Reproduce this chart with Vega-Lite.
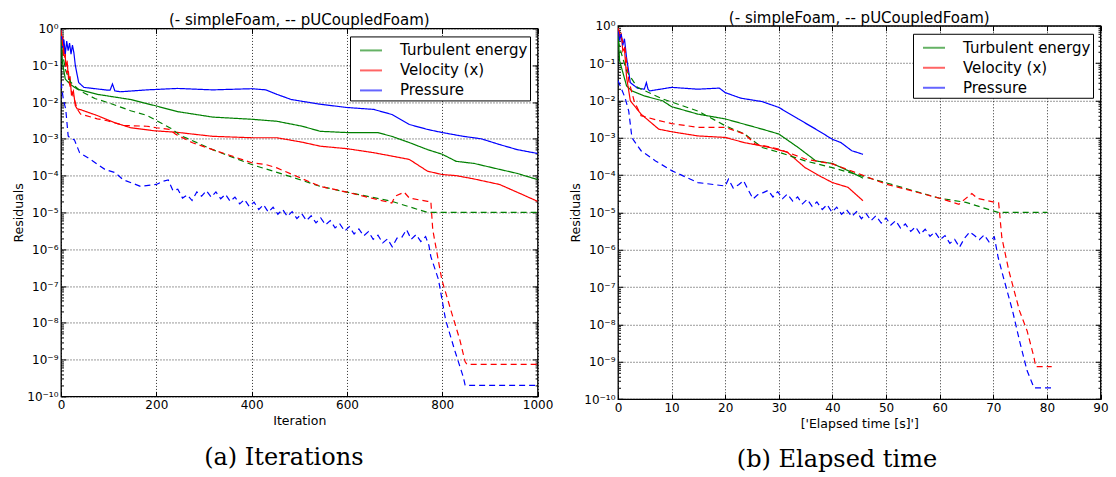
{
  "$schema": "https://vega.github.io/schema/vega-lite/v6.json",
  "padding": {"left": 12, "top": 9.5, "right": 0, "bottom": 0},
  "background": "white",
  "config": {
    "font": "DejaVu Sans",
    "view": {"stroke": "black", "strokeWidth": 1.3},
    "axis": {
      "domain": false, "grid": true, "gridColor": "black", "gridDash": [1, 2], "gridWidth": 0.8, "gridOpacity": 1,
      "tickColor": "black", "tickSize": -5, "tickWidth": 1, "labelFlush": false,
      "labelFont": "DejaVu Sans", "labelFontSize": 12, "labelColor": "black", "labelPadding": 8,
      "titleFont": "DejaVu Sans", "titleFontSize": 12.5, "titleFontWeight": "normal", "titleColor": "black", "titlePadding": 1
    },
    "axisX": {"titlePadding": 4},
    "legend": {
      "orient": "top-right", "offset": 8, "title": null, "strokeColor": "black", "fillColor": "white",
      "padding": 2, "cornerRadius": 0, "labelFont": "DejaVu Sans", "labelFontSize": 15, "labelColor": "black",
      "symbolType": "stroke", "symbolSize": 484, "symbolStrokeWidth": 2, "symbolOpacity": 0.6,
      "symbolOffset": 7, "labelOffset": 17, "rowPadding": 0
    },
    "title": {"font": "DejaVu Sans", "fontSize": 15, "fontWeight": "normal", "color": "black"}
  },
  "datasets": {
    "iter": [
      {"s":"simpleFoam","v":"Turbulent energy","x":0,"r":0.9},{"s":"simpleFoam","v":"Turbulent energy","x":3,"r":0.12},{"s":"simpleFoam","v":"Turbulent energy","x":9,"r":0.042},{"s":"simpleFoam","v":"Turbulent energy","x":20,"r":0.03},{"s":"simpleFoam","v":"Turbulent energy","x":34,"r":0.0224},{"s":"simpleFoam","v":"Turbulent energy","x":76,"r":0.0162},{"s":"simpleFoam","v":"Turbulent energy","x":146,"r":0.0117},{"s":"simpleFoam","v":"Turbulent energy","x":200,"r":0.0078},{"s":"simpleFoam","v":"Turbulent energy","x":244,"r":0.0055},{"s":"simpleFoam","v":"Turbulent energy","x":318,"r":0.0039},{"s":"simpleFoam","v":"Turbulent energy","x":400,"r":0.0034},{"s":"simpleFoam","v":"Turbulent energy","x":453,"r":0.003},{"s":"simpleFoam","v":"Turbulent energy","x":506,"r":0.0022},{"s":"simpleFoam","v":"Turbulent energy","x":544,"r":0.0016},{"s":"simpleFoam","v":"Turbulent energy","x":600,"r":0.00148},{"s":"simpleFoam","v":"Turbulent energy","x":664,"r":0.00148},{"s":"simpleFoam","v":"Turbulent energy","x":694,"r":0.00117},{"s":"simpleFoam","v":"Turbulent energy","x":732,"r":0.00078},{"s":"simpleFoam","v":"Turbulent energy","x":769,"r":0.00051},{"s":"simpleFoam","v":"Turbulent energy","x":800,"r":0.00038},{"s":"simpleFoam","v":"Turbulent energy","x":829,"r":0.000245},{"s":"simpleFoam","v":"Turbulent energy","x":867,"r":0.000214},{"s":"simpleFoam","v":"Turbulent energy","x":920,"r":0.000148},{"s":"simpleFoam","v":"Turbulent energy","x":957,"r":0.000115},{"s":"simpleFoam","v":"Turbulent energy","x":1000,"r":0.000078},
      {"s":"simpleFoam","v":"Velocity (x)","x":0,"r":0.9},{"s":"simpleFoam","v":"Velocity (x)","x":2,"r":0.5},{"s":"simpleFoam","v":"Velocity (x)","x":4,"r":0.6},{"s":"simpleFoam","v":"Velocity (x)","x":6,"r":0.2},{"s":"simpleFoam","v":"Velocity (x)","x":8,"r":0.3},{"s":"simpleFoam","v":"Velocity (x)","x":10,"r":0.1},{"s":"simpleFoam","v":"Velocity (x)","x":13,"r":0.12},{"s":"simpleFoam","v":"Velocity (x)","x":16,"r":0.04},{"s":"simpleFoam","v":"Velocity (x)","x":19,"r":0.05},{"s":"simpleFoam","v":"Velocity (x)","x":22,"r":0.015},{"s":"simpleFoam","v":"Velocity (x)","x":26,"r":0.02},{"s":"simpleFoam","v":"Velocity (x)","x":30,"r":0.008},{"s":"simpleFoam","v":"Velocity (x)","x":34,"r":0.0065},{"s":"simpleFoam","v":"Velocity (x)","x":41,"r":0.0062},{"s":"simpleFoam","v":"Velocity (x)","x":76,"r":0.0043},{"s":"simpleFoam","v":"Velocity (x)","x":111,"r":0.0028},{"s":"simpleFoam","v":"Velocity (x)","x":146,"r":0.002},{"s":"simpleFoam","v":"Velocity (x)","x":195,"r":0.00166},{"s":"simpleFoam","v":"Velocity (x)","x":244,"r":0.0015},{"s":"simpleFoam","v":"Velocity (x)","x":318,"r":0.00117},{"s":"simpleFoam","v":"Velocity (x)","x":400,"r":0.00107},{"s":"simpleFoam","v":"Velocity (x)","x":453,"r":0.00107},{"s":"simpleFoam","v":"Velocity (x)","x":506,"r":0.00081},{"s":"simpleFoam","v":"Velocity (x)","x":544,"r":0.00063},{"s":"simpleFoam","v":"Velocity (x)","x":600,"r":0.00054},{"s":"simpleFoam","v":"Velocity (x)","x":656,"r":0.00042},{"s":"simpleFoam","v":"Velocity (x)","x":694,"r":0.00034},{"s":"simpleFoam","v":"Velocity (x)","x":731,"r":0.000275},{"s":"simpleFoam","v":"Velocity (x)","x":769,"r":0.000132},{"s":"simpleFoam","v":"Velocity (x)","x":800,"r":0.000107},{"s":"simpleFoam","v":"Velocity (x)","x":829,"r":0.0001},{"s":"simpleFoam","v":"Velocity (x)","x":867,"r":0.000081},{"s":"simpleFoam","v":"Velocity (x)","x":920,"r":0.0000575},{"s":"simpleFoam","v":"Velocity (x)","x":957,"r":0.0000355},{"s":"simpleFoam","v":"Velocity (x)","x":1000,"r":0.00002},
      {"s":"simpleFoam","v":"Pressure","x":0,"r":0.9},{"s":"simpleFoam","v":"Pressure","x":3,"r":0.3},{"s":"simpleFoam","v":"Pressure","x":6,"r":0.5},{"s":"simpleFoam","v":"Pressure","x":9,"r":0.2},{"s":"simpleFoam","v":"Pressure","x":12,"r":0.45},{"s":"simpleFoam","v":"Pressure","x":15,"r":0.25},{"s":"simpleFoam","v":"Pressure","x":18,"r":0.4},{"s":"simpleFoam","v":"Pressure","x":21,"r":0.2},{"s":"simpleFoam","v":"Pressure","x":24,"r":0.35},{"s":"simpleFoam","v":"Pressure","x":27,"r":0.22},{"s":"simpleFoam","v":"Pressure","x":30,"r":0.1},{"s":"simpleFoam","v":"Pressure","x":37,"r":0.034},{"s":"simpleFoam","v":"Pressure","x":48,"r":0.025},{"s":"simpleFoam","v":"Pressure","x":98,"r":0.021},{"s":"simpleFoam","v":"Pressure","x":103,"r":0.021},{"s":"simpleFoam","v":"Pressure","x":108,"r":0.031},{"s":"simpleFoam","v":"Pressure","x":113,"r":0.02},{"s":"simpleFoam","v":"Pressure","x":125,"r":0.019},{"s":"simpleFoam","v":"Pressure","x":181,"r":0.0214},{"s":"simpleFoam","v":"Pressure","x":244,"r":0.0234},{"s":"simpleFoam","v":"Pressure","x":318,"r":0.0214},{"s":"simpleFoam","v":"Pressure","x":400,"r":0.023},{"s":"simpleFoam","v":"Pressure","x":430,"r":0.0214},{"s":"simpleFoam","v":"Pressure","x":453,"r":0.0162},{"s":"simpleFoam","v":"Pressure","x":483,"r":0.0117},{"s":"simpleFoam","v":"Pressure","x":544,"r":0.0087},{"s":"simpleFoam","v":"Pressure","x":600,"r":0.0071},{"s":"simpleFoam","v":"Pressure","x":656,"r":0.0063},{"s":"simpleFoam","v":"Pressure","x":694,"r":0.0046},{"s":"simpleFoam","v":"Pressure","x":731,"r":0.00245},{"s":"simpleFoam","v":"Pressure","x":769,"r":0.0018},{"s":"simpleFoam","v":"Pressure","x":800,"r":0.00148},{"s":"simpleFoam","v":"Pressure","x":844,"r":0.00117},{"s":"simpleFoam","v":"Pressure","x":882,"r":0.001},{"s":"simpleFoam","v":"Pressure","x":920,"r":0.0007},{"s":"simpleFoam","v":"Pressure","x":957,"r":0.00051},{"s":"simpleFoam","v":"Pressure","x":1000,"r":0.0004},
      {"s":"pUCoupledFoam","v":"Turbulent energy","x":0,"r":0.5},{"s":"pUCoupledFoam","v":"Turbulent energy","x":5,"r":0.15},{"s":"pUCoupledFoam","v":"Turbulent energy","x":10,"r":0.07},{"s":"pUCoupledFoam","v":"Turbulent energy","x":20,"r":0.035},{"s":"pUCoupledFoam","v":"Turbulent energy","x":40,"r":0.02},{"s":"pUCoupledFoam","v":"Turbulent energy","x":71,"r":0.0125},{"s":"pUCoupledFoam","v":"Turbulent energy","x":97,"r":0.0098},{"s":"pUCoupledFoam","v":"Turbulent energy","x":146,"r":0.0058},{"s":"pUCoupledFoam","v":"Turbulent energy","x":181,"r":0.0043},{"s":"pUCoupledFoam","v":"Turbulent energy","x":231,"r":0.0019},{"s":"pUCoupledFoam","v":"Turbulent energy","x":250,"r":0.00125},{"s":"pUCoupledFoam","v":"Turbulent energy","x":318,"r":0.00051},{"s":"pUCoupledFoam","v":"Turbulent energy","x":400,"r":0.0002},{"s":"pUCoupledFoam","v":"Turbulent energy","x":468,"r":0.000107},{"s":"pUCoupledFoam","v":"Turbulent energy","x":544,"r":0.000051},{"s":"pUCoupledFoam","v":"Turbulent energy","x":600,"r":0.0000355},{"s":"pUCoupledFoam","v":"Turbulent energy","x":694,"r":0.00002},{"s":"pUCoupledFoam","v":"Turbulent energy","x":769,"r":0.00001},{"s":"pUCoupledFoam","v":"Turbulent energy","x":1000,"r":0.00001},
      {"s":"pUCoupledFoam","v":"Velocity (x)","x":0,"r":0.9},{"s":"pUCoupledFoam","v":"Velocity (x)","x":3,"r":0.4},{"s":"pUCoupledFoam","v":"Velocity (x)","x":6,"r":0.15},{"s":"pUCoupledFoam","v":"Velocity (x)","x":9,"r":0.2},{"s":"pUCoupledFoam","v":"Velocity (x)","x":12,"r":0.06},{"s":"pUCoupledFoam","v":"Velocity (x)","x":15,"r":0.08},{"s":"pUCoupledFoam","v":"Velocity (x)","x":18,"r":0.03},{"s":"pUCoupledFoam","v":"Velocity (x)","x":22,"r":0.02},{"s":"pUCoupledFoam","v":"Velocity (x)","x":28,"r":0.0117},{"s":"pUCoupledFoam","v":"Velocity (x)","x":34,"r":0.0065},{"s":"pUCoupledFoam","v":"Velocity (x)","x":41,"r":0.0047},{"s":"pUCoupledFoam","v":"Velocity (x)","x":76,"r":0.0035},{"s":"pUCoupledFoam","v":"Velocity (x)","x":97,"r":0.0031},{"s":"pUCoupledFoam","v":"Velocity (x)","x":132,"r":0.0023},{"s":"pUCoupledFoam","v":"Velocity (x)","x":180,"r":0.0022},{"s":"pUCoupledFoam","v":"Velocity (x)","x":200,"r":0.002},{"s":"pUCoupledFoam","v":"Velocity (x)","x":227,"r":0.0018},{"s":"pUCoupledFoam","v":"Velocity (x)","x":242,"r":0.0013},{"s":"pUCoupledFoam","v":"Velocity (x)","x":276,"r":0.00078},{"s":"pUCoupledFoam","v":"Velocity (x)","x":318,"r":0.00051},{"s":"pUCoupledFoam","v":"Velocity (x)","x":400,"r":0.000224},{"s":"pUCoupledFoam","v":"Velocity (x)","x":430,"r":0.0002},{"s":"pUCoupledFoam","v":"Velocity (x)","x":453,"r":0.000162},{"s":"pUCoupledFoam","v":"Velocity (x)","x":544,"r":0.000051},{"s":"pUCoupledFoam","v":"Velocity (x)","x":600,"r":0.0000355},{"s":"pUCoupledFoam","v":"Velocity (x)","x":694,"r":0.000018},{"s":"pUCoupledFoam","v":"Velocity (x)","x":701,"r":0.0000275},{"s":"pUCoupledFoam","v":"Velocity (x)","x":720,"r":0.0000355},{"s":"pUCoupledFoam","v":"Velocity (x)","x":731,"r":0.0000245},{"s":"pUCoupledFoam","v":"Velocity (x)","x":769,"r":0.00002},{"s":"pUCoupledFoam","v":"Velocity (x)","x":776,"r":0.00002},{"s":"pUCoupledFoam","v":"Velocity (x)","x":780,"r":0.0000034},{"s":"pUCoupledFoam","v":"Velocity (x)","x":799,"r":1.5e-7},{"s":"pUCoupledFoam","v":"Velocity (x)","x":818,"r":2.2e-8},{"s":"pUCoupledFoam","v":"Velocity (x)","x":837,"r":3.4e-9},{"s":"pUCoupledFoam","v":"Velocity (x)","x":848,"r":8.7e-10},{"s":"pUCoupledFoam","v":"Velocity (x)","x":852,"r":7.4e-10},{"s":"pUCoupledFoam","v":"Velocity (x)","x":1000,"r":7.4e-10},
      {"s":"pUCoupledFoam","v":"Pressure","x":0,"r":0.034},{"s":"pUCoupledFoam","v":"Pressure","x":5,"r":0.0117},{"s":"pUCoupledFoam","v":"Pressure","x":10,"r":0.0063},{"s":"pUCoupledFoam","v":"Pressure","x":15,"r":0.0012},{"s":"pUCoupledFoam","v":"Pressure","x":20,"r":0.001},{"s":"pUCoupledFoam","v":"Pressure","x":28,"r":0.00095},{"s":"pUCoupledFoam","v":"Pressure","x":39,"r":0.00042},{"s":"pUCoupledFoam","v":"Pressure","x":62,"r":0.000275},{"s":"pUCoupledFoam","v":"Pressure","x":92,"r":0.000148},{"s":"pUCoupledFoam","v":"Pressure","x":114,"r":0.00012},{"s":"pUCoupledFoam","v":"Pressure","x":130,"r":0.000078},{"s":"pUCoupledFoam","v":"Pressure","x":167,"r":0.000051},{"s":"pUCoupledFoam","v":"Pressure","x":200,"r":0.0000575},{"s":"pUCoupledFoam","v":"Pressure","x":215,"r":0.000071},
      {"s":"pUCoupledFoam","v":"Pressure","x":225,"r":7.6e-5},{"s":"pUCoupledFoam","v":"Pressure","x":235,"r":3.9e-5},{"s":"pUCoupledFoam","v":"Pressure","x":245,"r":4.3e-5},{"s":"pUCoupledFoam","v":"Pressure","x":255,"r":2.45e-5},{"s":"pUCoupledFoam","v":"Pressure","x":265,"r":3.0e-5},{"s":"pUCoupledFoam","v":"Pressure","x":275,"r":2.1e-5},{"s":"pUCoupledFoam","v":"Pressure","x":285,"r":3.6e-5},{"s":"pUCoupledFoam","v":"Pressure","x":295,"r":2.75e-5},{"s":"pUCoupledFoam","v":"Pressure","x":305,"r":3.9e-5},{"s":"pUCoupledFoam","v":"Pressure","x":315,"r":2.6e-5},{"s":"pUCoupledFoam","v":"Pressure","x":325,"r":3.6e-5},{"s":"pUCoupledFoam","v":"Pressure","x":335,"r":2.35e-5},{"s":"pUCoupledFoam","v":"Pressure","x":345,"r":3.1e-5},{"s":"pUCoupledFoam","v":"Pressure","x":355,"r":2.0e-5},{"s":"pUCoupledFoam","v":"Pressure","x":365,"r":2.6e-5},{"s":"pUCoupledFoam","v":"Pressure","x":375,"r":1.7e-5},{"s":"pUCoupledFoam","v":"Pressure","x":385,"r":2.24e-5},{"s":"pUCoupledFoam","v":"Pressure","x":395,"r":1.45e-5},{"s":"pUCoupledFoam","v":"Pressure","x":405,"r":1.9e-5},{"s":"pUCoupledFoam","v":"Pressure","x":415,"r":1.2e-5},{"s":"pUCoupledFoam","v":"Pressure","x":425,"r":1.62e-5},{"s":"pUCoupledFoam","v":"Pressure","x":435,"r":1.02e-5},{"s":"pUCoupledFoam","v":"Pressure","x":445,"r":1.38e-5},{"s":"pUCoupledFoam","v":"Pressure","x":455,"r":8.9e-6},{"s":"pUCoupledFoam","v":"Pressure","x":465,"r":1.2e-5},{"s":"pUCoupledFoam","v":"Pressure","x":475,"r":7.8e-6},{"s":"pUCoupledFoam","v":"Pressure","x":485,"r":1.05e-5},{"s":"pUCoupledFoam","v":"Pressure","x":495,"r":6.8e-6},{"s":"pUCoupledFoam","v":"Pressure","x":505,"r":9.3e-6},{"s":"pUCoupledFoam","v":"Pressure","x":515,"r":6.0e-6},{"s":"pUCoupledFoam","v":"Pressure","x":525,"r":8.1e-6},{"s":"pUCoupledFoam","v":"Pressure","x":535,"r":5.2e-6},{"s":"pUCoupledFoam","v":"Pressure","x":545,"r":7.1e-6},{"s":"pUCoupledFoam","v":"Pressure","x":555,"r":4.6e-6},{"s":"pUCoupledFoam","v":"Pressure","x":565,"r":6.0e-6},{"s":"pUCoupledFoam","v":"Pressure","x":575,"r":3.8e-6},{"s":"pUCoupledFoam","v":"Pressure","x":585,"r":4.9e-6},{"s":"pUCoupledFoam","v":"Pressure","x":595,"r":3.1e-6},{"s":"pUCoupledFoam","v":"Pressure","x":605,"r":4.1e-6},{"s":"pUCoupledFoam","v":"Pressure","x":615,"r":2.6e-6},{"s":"pUCoupledFoam","v":"Pressure","x":625,"r":3.55e-6},{"s":"pUCoupledFoam","v":"Pressure","x":635,"r":2.3e-6},{"s":"pUCoupledFoam","v":"Pressure","x":645,"r":3.0e-6},{"s":"pUCoupledFoam","v":"Pressure","x":655,"r":1.86e-6},{"s":"pUCoupledFoam","v":"Pressure","x":665,"r":2.4e-6},{"s":"pUCoupledFoam","v":"Pressure","x":675,"r":1.48e-6},{"s":"pUCoupledFoam","v":"Pressure","x":685,"r":1.9e-6},{"s":"pUCoupledFoam","v":"Pressure","x":695,"r":1.17e-6},{"s":"pUCoupledFoam","v":"Pressure","x":705,"r":2.0e-6},{"s":"pUCoupledFoam","v":"Pressure","x":715,"r":2.1e-6},{"s":"pUCoupledFoam","v":"Pressure","x":725,"r":3.4e-6},{"s":"pUCoupledFoam","v":"Pressure","x":735,"r":1.86e-6},{"s":"pUCoupledFoam","v":"Pressure","x":745,"r":2.5e-6},{"s":"pUCoupledFoam","v":"Pressure","x":755,"r":1.62e-6},{"s":"pUCoupledFoam","v":"Pressure","x":765,"r":2.2e-6},{"s":"pUCoupledFoam","v":"Pressure","x":772,"r":1.26e-6},
      {"s":"pUCoupledFoam","v":"Pressure","x":776,"r":6.3e-7},{"s":"pUCoupledFoam","v":"Pressure","x":792,"r":1.5e-7},{"s":"pUCoupledFoam","v":"Pressure","x":807,"r":1.2e-8},{"s":"pUCoupledFoam","v":"Pressure","x":826,"r":1.8e-9},{"s":"pUCoupledFoam","v":"Pressure","x":844,"r":3.4e-10},{"s":"pUCoupledFoam","v":"Pressure","x":848,"r":2e-10},{"s":"pUCoupledFoam","v":"Pressure","x":1000,"r":2e-10}
    ],
    "time": [
      {"s":"simpleFoam","v":"Turbulent energy","x":0,"r":0.9},{"s":"simpleFoam","v":"Turbulent energy","x":0.3,"r":0.115},{"s":"simpleFoam","v":"Turbulent energy","x":1,"r":0.05},{"s":"simpleFoam","v":"Turbulent energy","x":1.6,"r":0.0245},{"s":"simpleFoam","v":"Turbulent energy","x":2.6,"r":0.018},{"s":"simpleFoam","v":"Turbulent energy","x":4.9,"r":0.0132},{"s":"simpleFoam","v":"Turbulent energy","x":8.3,"r":0.0098},{"s":"simpleFoam","v":"Turbulent energy","x":10,"r":0.0068},{"s":"simpleFoam","v":"Turbulent energy","x":14.9,"r":0.0043},{"s":"simpleFoam","v":"Turbulent energy","x":20,"r":0.0032},{"s":"simpleFoam","v":"Turbulent energy","x":23.6,"r":0.0023},{"s":"simpleFoam","v":"Turbulent energy","x":26.9,"r":0.0017},{"s":"simpleFoam","v":"Turbulent energy","x":30,"r":0.00126},{"s":"simpleFoam","v":"Turbulent energy","x":33.6,"r":0.00055},{"s":"simpleFoam","v":"Turbulent energy","x":36.9,"r":0.00024},{"s":"simpleFoam","v":"Turbulent energy","x":40,"r":0.000204},{"s":"simpleFoam","v":"Turbulent energy","x":42.9,"r":0.000132},{"s":"simpleFoam","v":"Turbulent energy","x":45.7,"r":0.000083},
      {"s":"simpleFoam","v":"Velocity (x)","x":0,"r":0.87},{"s":"simpleFoam","v":"Velocity (x)","x":0.3,"r":0.5},{"s":"simpleFoam","v":"Velocity (x)","x":0.6,"r":0.6},{"s":"simpleFoam","v":"Velocity (x)","x":0.9,"r":0.21},{"s":"simpleFoam","v":"Velocity (x)","x":1.2,"r":0.25},{"s":"simpleFoam","v":"Velocity (x)","x":1.6,"r":0.042},{"s":"simpleFoam","v":"Velocity (x)","x":2.3,"r":0.0098},{"s":"simpleFoam","v":"Velocity (x)","x":4.3,"r":0.0043},{"s":"simpleFoam","v":"Velocity (x)","x":7.6,"r":0.0017},{"s":"simpleFoam","v":"Velocity (x)","x":10,"r":0.00145},{"s":"simpleFoam","v":"Velocity (x)","x":14.9,"r":0.00112},{"s":"simpleFoam","v":"Velocity (x)","x":20,"r":0.00102},{"s":"simpleFoam","v":"Velocity (x)","x":23.6,"r":0.00074},{"s":"simpleFoam","v":"Velocity (x)","x":28.3,"r":0.00055},{"s":"simpleFoam","v":"Velocity (x)","x":31.6,"r":0.00041},{"s":"simpleFoam","v":"Velocity (x)","x":34.9,"r":0.000158},{"s":"simpleFoam","v":"Velocity (x)","x":37.6,"r":0.000095},{"s":"simpleFoam","v":"Velocity (x)","x":40,"r":0.000063},{"s":"simpleFoam","v":"Velocity (x)","x":42.9,"r":0.000047},{"s":"simpleFoam","v":"Velocity (x)","x":45.7,"r":0.0000205},
      {"s":"simpleFoam","v":"Pressure","x":0,"r":0.87},{"s":"simpleFoam","v":"Pressure","x":0.3,"r":0.4},{"s":"simpleFoam","v":"Pressure","x":0.6,"r":0.6},{"s":"simpleFoam","v":"Pressure","x":0.9,"r":0.3},{"s":"simpleFoam","v":"Pressure","x":1.2,"r":0.45},{"s":"simpleFoam","v":"Pressure","x":1.6,"r":0.14},{"s":"simpleFoam","v":"Pressure","x":2.3,"r":0.03},{"s":"simpleFoam","v":"Pressure","x":3.6,"r":0.0214},{"s":"simpleFoam","v":"Pressure","x":4.9,"r":0.02},{"s":"simpleFoam","v":"Pressure","x":5.3,"r":0.03},{"s":"simpleFoam","v":"Pressure","x":5.6,"r":0.02},{"s":"simpleFoam","v":"Pressure","x":5.9,"r":0.018},{"s":"simpleFoam","v":"Pressure","x":10,"r":0.0224},{"s":"simpleFoam","v":"Pressure","x":14.9,"r":0.02},{"s":"simpleFoam","v":"Pressure","x":18.9,"r":0.0214},{"s":"simpleFoam","v":"Pressure","x":20,"r":0.0162},{"s":"simpleFoam","v":"Pressure","x":22.9,"r":0.0115},{"s":"simpleFoam","v":"Pressure","x":26.9,"r":0.0093},{"s":"simpleFoam","v":"Pressure","x":30,"r":0.0065},{"s":"simpleFoam","v":"Pressure","x":33.6,"r":0.0032},{"s":"simpleFoam","v":"Pressure","x":36.9,"r":0.0017},{"s":"simpleFoam","v":"Pressure","x":40,"r":0.00091},{"s":"simpleFoam","v":"Pressure","x":41.6,"r":0.00074},{"s":"simpleFoam","v":"Pressure","x":43.6,"r":0.00045},{"s":"simpleFoam","v":"Pressure","x":45.7,"r":0.00036},
      {"s":"pUCoupledFoam","v":"Turbulent energy","x":0,"r":0.4},{"s":"pUCoupledFoam","v":"Turbulent energy","x":0.8,"r":0.15},{"s":"pUCoupledFoam","v":"Turbulent energy","x":1.6,"r":0.062},{"s":"pUCoupledFoam","v":"Turbulent energy","x":3.6,"r":0.0224},{"s":"pUCoupledFoam","v":"Turbulent energy","x":8.3,"r":0.011},{"s":"pUCoupledFoam","v":"Turbulent energy","x":14.9,"r":0.0052},{"s":"pUCoupledFoam","v":"Turbulent energy","x":20,"r":0.0021},{"s":"pUCoupledFoam","v":"Turbulent energy","x":23.6,"r":0.00126},{"s":"pUCoupledFoam","v":"Turbulent energy","x":26.9,"r":0.00055},{"s":"pUCoupledFoam","v":"Turbulent energy","x":30,"r":0.00041},{"s":"pUCoupledFoam","v":"Turbulent energy","x":34.9,"r":0.00024},{"s":"pUCoupledFoam","v":"Turbulent energy","x":40,"r":0.000158},{"s":"pUCoupledFoam","v":"Turbulent energy","x":50,"r":0.000062},{"s":"pUCoupledFoam","v":"Turbulent energy","x":60,"r":0.000024},{"s":"pUCoupledFoam","v":"Turbulent energy","x":64.9,"r":0.0000186},{"s":"pUCoupledFoam","v":"Turbulent energy","x":70.9,"r":0.00001},{"s":"pUCoupledFoam","v":"Turbulent energy","x":80.1,"r":0.00001},
      {"s":"pUCoupledFoam","v":"Velocity (x)","x":0,"r":0.87},{"s":"pUCoupledFoam","v":"Velocity (x)","x":1.3,"r":0.25},{"s":"pUCoupledFoam","v":"Velocity (x)","x":2,"r":0.034},{"s":"pUCoupledFoam","v":"Velocity (x)","x":3,"r":0.0098},{"s":"pUCoupledFoam","v":"Velocity (x)","x":4.3,"r":0.0039},{"s":"pUCoupledFoam","v":"Velocity (x)","x":7.6,"r":0.0029},{"s":"pUCoupledFoam","v":"Velocity (x)","x":10,"r":0.0024},{"s":"pUCoupledFoam","v":"Velocity (x)","x":14.9,"r":0.0019},{"s":"pUCoupledFoam","v":"Velocity (x)","x":20,"r":0.0019},{"s":"pUCoupledFoam","v":"Velocity (x)","x":23.6,"r":0.00126},{"s":"pUCoupledFoam","v":"Velocity (x)","x":25.6,"r":0.00068},{"s":"pUCoupledFoam","v":"Velocity (x)","x":30,"r":0.0005},{"s":"pUCoupledFoam","v":"Velocity (x)","x":34.9,"r":0.00027},{"s":"pUCoupledFoam","v":"Velocity (x)","x":40,"r":0.0002},{"s":"pUCoupledFoam","v":"Velocity (x)","x":50,"r":0.0000575},{"s":"pUCoupledFoam","v":"Velocity (x)","x":60,"r":0.000024},{"s":"pUCoupledFoam","v":"Velocity (x)","x":63.6,"r":0.0000166},{"s":"pUCoupledFoam","v":"Velocity (x)","x":64.6,"r":0.000022},{"s":"pUCoupledFoam","v":"Velocity (x)","x":66,"r":0.000032},{"s":"pUCoupledFoam","v":"Velocity (x)","x":67,"r":0.000024},{"s":"pUCoupledFoam","v":"Velocity (x)","x":70.3,"r":0.0000186},{"s":"pUCoupledFoam","v":"Velocity (x)","x":71,"r":0.000018},{"s":"pUCoupledFoam","v":"Velocity (x)","x":71.6,"r":0.0000021},{"s":"pUCoupledFoam","v":"Velocity (x)","x":72.9,"r":2.75e-7},{"s":"pUCoupledFoam","v":"Velocity (x)","x":74.9,"r":2.3e-8},{"s":"pUCoupledFoam","v":"Velocity (x)","x":76.3,"r":6.8e-9},{"s":"pUCoupledFoam","v":"Velocity (x)","x":77.6,"r":1.3e-9},{"s":"pUCoupledFoam","v":"Velocity (x)","x":77.9,"r":7.4e-10},{"s":"pUCoupledFoam","v":"Velocity (x)","x":80.9,"r":7.4e-10},
      {"s":"pUCoupledFoam","v":"Pressure","x":0,"r":0.034},{"s":"pUCoupledFoam","v":"Pressure","x":1.3,"r":0.012},{"s":"pUCoupledFoam","v":"Pressure","x":2,"r":0.0052},{"s":"pUCoupledFoam","v":"Pressure","x":2.6,"r":0.001},{"s":"pUCoupledFoam","v":"Pressure","x":4.3,"r":0.00045},{"s":"pUCoupledFoam","v":"Pressure","x":7,"r":0.00024},{"s":"pUCoupledFoam","v":"Pressure","x":10,"r":0.000132},{"s":"pUCoupledFoam","v":"Pressure","x":14.9,"r":0.000063},{"s":"pUCoupledFoam","v":"Pressure","x":20,"r":0.000051},
      {"s":"pUCoupledFoam","v":"Pressure","x":20.6,"r":7.8e-5},{"s":"pUCoupledFoam","v":"Pressure","x":21.5,"r":4.5e-5},{"s":"pUCoupledFoam","v":"Pressure","x":22.5,"r":5.5e-5},{"s":"pUCoupledFoam","v":"Pressure","x":23.4,"r":7.1e-5},{"s":"pUCoupledFoam","v":"Pressure","x":24.3,"r":4.0e-5},{"s":"pUCoupledFoam","v":"Pressure","x":25.2,"r":2.3e-5},{"s":"pUCoupledFoam","v":"Pressure","x":26.1,"r":3.0e-5},{"s":"pUCoupledFoam","v":"Pressure","x":27.1,"r":3.4e-5},{"s":"pUCoupledFoam","v":"Pressure","x":28.0,"r":3.9e-5},{"s":"pUCoupledFoam","v":"Pressure","x":28.9,"r":2.6e-5},{"s":"pUCoupledFoam","v":"Pressure","x":29.8,"r":3.6e-5},{"s":"pUCoupledFoam","v":"Pressure","x":30.7,"r":2.35e-5},{"s":"pUCoupledFoam","v":"Pressure","x":31.6,"r":3.1e-5},{"s":"pUCoupledFoam","v":"Pressure","x":32.6,"r":2.0e-5},{"s":"pUCoupledFoam","v":"Pressure","x":33.5,"r":2.6e-5},{"s":"pUCoupledFoam","v":"Pressure","x":34.4,"r":1.7e-5},{"s":"pUCoupledFoam","v":"Pressure","x":35.3,"r":2.24e-5},{"s":"pUCoupledFoam","v":"Pressure","x":36.2,"r":1.45e-5},{"s":"pUCoupledFoam","v":"Pressure","x":37.1,"r":1.9e-5},{"s":"pUCoupledFoam","v":"Pressure","x":38.1,"r":1.2e-5},{"s":"pUCoupledFoam","v":"Pressure","x":39.0,"r":1.62e-5},{"s":"pUCoupledFoam","v":"Pressure","x":39.9,"r":1.02e-5},{"s":"pUCoupledFoam","v":"Pressure","x":40.8,"r":1.38e-5},{"s":"pUCoupledFoam","v":"Pressure","x":41.7,"r":8.9e-6},{"s":"pUCoupledFoam","v":"Pressure","x":42.6,"r":1.2e-5},{"s":"pUCoupledFoam","v":"Pressure","x":43.6,"r":7.8e-6},{"s":"pUCoupledFoam","v":"Pressure","x":44.5,"r":1.05e-5},{"s":"pUCoupledFoam","v":"Pressure","x":45.4,"r":6.8e-6},{"s":"pUCoupledFoam","v":"Pressure","x":46.3,"r":9.3e-6},{"s":"pUCoupledFoam","v":"Pressure","x":47.2,"r":6.0e-6},{"s":"pUCoupledFoam","v":"Pressure","x":48.1,"r":8.1e-6},{"s":"pUCoupledFoam","v":"Pressure","x":49.1,"r":5.2e-6},{"s":"pUCoupledFoam","v":"Pressure","x":50.0,"r":7.1e-6},{"s":"pUCoupledFoam","v":"Pressure","x":50.9,"r":4.6e-6},{"s":"pUCoupledFoam","v":"Pressure","x":51.8,"r":6.0e-6},{"s":"pUCoupledFoam","v":"Pressure","x":52.7,"r":3.8e-6},{"s":"pUCoupledFoam","v":"Pressure","x":53.6,"r":4.9e-6},{"s":"pUCoupledFoam","v":"Pressure","x":54.6,"r":3.1e-6},{"s":"pUCoupledFoam","v":"Pressure","x":55.5,"r":4.1e-6},{"s":"pUCoupledFoam","v":"Pressure","x":56.4,"r":2.6e-6},{"s":"pUCoupledFoam","v":"Pressure","x":57.3,"r":3.55e-6},{"s":"pUCoupledFoam","v":"Pressure","x":58.2,"r":2.3e-6},{"s":"pUCoupledFoam","v":"Pressure","x":59.1,"r":3.0e-6},{"s":"pUCoupledFoam","v":"Pressure","x":60.1,"r":1.86e-6},{"s":"pUCoupledFoam","v":"Pressure","x":61.0,"r":2.4e-6},{"s":"pUCoupledFoam","v":"Pressure","x":61.9,"r":1.48e-6},{"s":"pUCoupledFoam","v":"Pressure","x":62.8,"r":1.9e-6},{"s":"pUCoupledFoam","v":"Pressure","x":63.7,"r":1.17e-6},{"s":"pUCoupledFoam","v":"Pressure","x":64.6,"r":2.0e-6},{"s":"pUCoupledFoam","v":"Pressure","x":65.6,"r":3.0e-6},{"s":"pUCoupledFoam","v":"Pressure","x":66.5,"r":2.4e-6},{"s":"pUCoupledFoam","v":"Pressure","x":67.4,"r":1.86e-6},{"s":"pUCoupledFoam","v":"Pressure","x":68.3,"r":2.5e-6},{"s":"pUCoupledFoam","v":"Pressure","x":69.2,"r":1.62e-6},{"s":"pUCoupledFoam","v":"Pressure","x":70.2,"r":2.2e-6},
      {"s":"pUCoupledFoam","v":"Pressure","x":70.9,"r":6.3e-7},{"s":"pUCoupledFoam","v":"Pressure","x":71.9,"r":1.8e-7},{"s":"pUCoupledFoam","v":"Pressure","x":73.6,"r":2.3e-8},{"s":"pUCoupledFoam","v":"Pressure","x":74.9,"r":3.6e-9},{"s":"pUCoupledFoam","v":"Pressure","x":76.3,"r":5.8e-10},{"s":"pUCoupledFoam","v":"Pressure","x":77.6,"r":2e-10},{"s":"pUCoupledFoam","v":"Pressure","x":80.9,"r":2e-10}
    ]
  },
  "hconcat": [
    {
      "title": {"text": "(a) Iterations", "orient": "bottom", "font": "DejaVu Serif", "fontSize": 24, "fontWeight": "normal", "offset": 18, "dx": 1, "anchor": "middle", "frame": "bounds"},
      "resolve": {"legend": {"color": "independent"}, "scale": {"color": "independent"}},
      "vconcat": [
        {
          "title": {"text": "(- simpleFoam, -- pUCoupledFoam)", "frame": "group", "anchor": "middle", "offset": -6},
          "width": 476.6,
          "height": 368,
          "data": {"name": "iter"},
          "resolve": {"axis": {"x": "independent", "y": "independent"}},
          "layer": [
            {
              "mark": {"type": "line", "strokeWidth": 1.2, "clip": true},
              "encoding": {
                "x": {"field": "x", "type": "quantitative", "scale": {"domain": [0, 1000], "nice": false, "zero": false},
                      "axis": {"orient": "bottom", "values": [0, 200, 400, 600, 800, 1000], "format": "d", "title": "Iteration"}},
                "y": {"field": "r", "type": "quantitative", "scale": {"type": "log", "domain": [1e-10, 1], "nice": false},
                      "axis": {"orient": "left", "values": [1, 0.1, 0.01, 0.001, 0.0001, 0.00001, 0.000001, 1e-7, 1e-8, 1e-9, 1e-10], "title": "Residuals",
                               "labelExpr": "'10' + ['⁰','⁻¹','⁻²','⁻³','⁻⁴','⁻⁵','⁻⁶','⁻⁷','⁻⁸','⁻⁹','⁻¹⁰'][round(-log(datum.value)/LN10)]"}},
                "color": {"field": "v", "type": "nominal", "scale": {"domain": ["Turbulent energy", "Velocity (x)", "Pressure"], "range": ["#008000", "#ff0000", "#0000ff"]}},
                "strokeDash": {"field": "s", "type": "nominal", "scale": {"domain": ["simpleFoam", "pUCoupledFoam"], "range": [[1, 0], [6, 4]]}, "legend": null}
              }
            },
            {
              "mark": {"type": "point", "opacity": 0},
              "encoding": {
                "x": {"field": "x", "type": "quantitative", "scale": {"domain": [0, 1000], "nice": false, "zero": false}, "axis": {"orient": "top", "values": [0, 200, 400, 600, 800, 1000], "labels": false, "grid": false, "title": null}},
                "y": {"field": "r", "type": "quantitative", "scale": {"type": "log", "domain": [1e-10, 1], "nice": false}, "axis": {"orient": "right", "values": [1, 0.1, 0.01, 0.001, 0.0001, 0.00001, 0.000001, 1e-7, 1e-8, 1e-9, 1e-10], "labels": false, "grid": false, "title": null}}
              }
            },
            {
              "mark": {"type": "point", "opacity": 0},
              "encoding": {
                "x": {"field": "x", "type": "quantitative", "scale": {"domain": [0, 1000], "nice": false, "zero": false}, "axis": null},
                "y": {"field": "r", "type": "quantitative", "scale": {"type": "log", "domain": [1e-10, 1], "nice": false}, "axis": {"orient": "left", "labels": false, "grid": false, "title": null, "tickSize": -2.5,
                  "values": [2e-1,3e-1,4e-1,5e-1,6e-1,7e-1,8e-1,9e-1,2e-2,3e-2,4e-2,5e-2,6e-2,7e-2,8e-2,9e-2,2e-3,3e-3,4e-3,5e-3,6e-3,7e-3,8e-3,9e-3,2e-4,3e-4,4e-4,5e-4,6e-4,7e-4,8e-4,9e-4,2e-5,3e-5,4e-5,5e-5,6e-5,7e-5,8e-5,9e-5,2e-6,3e-6,4e-6,5e-6,6e-6,7e-6,8e-6,9e-6,2e-7,3e-7,4e-7,5e-7,6e-7,7e-7,8e-7,9e-7,2e-8,3e-8,4e-8,5e-8,6e-8,7e-8,8e-8,9e-8,2e-9,3e-9,4e-9,5e-9,6e-9,7e-9,8e-9,9e-9,2e-10,3e-10,4e-10,5e-10,6e-10,7e-10,8e-10,9e-10]}}
              }
            },
            {
              "mark": {"type": "point", "opacity": 0},
              "encoding": {
                "x": {"field": "x", "type": "quantitative", "scale": {"domain": [0, 1000], "nice": false, "zero": false}, "axis": null},
                "y": {"field": "r", "type": "quantitative", "scale": {"type": "log", "domain": [1e-10, 1], "nice": false}, "axis": {"orient": "right", "labels": false, "grid": false, "title": null, "tickSize": -2.5,
                  "values": [2e-1,3e-1,4e-1,5e-1,6e-1,7e-1,8e-1,9e-1,2e-2,3e-2,4e-2,5e-2,6e-2,7e-2,8e-2,9e-2,2e-3,3e-3,4e-3,5e-3,6e-3,7e-3,8e-3,9e-3,2e-4,3e-4,4e-4,5e-4,6e-4,7e-4,8e-4,9e-4,2e-5,3e-5,4e-5,5e-5,6e-5,7e-5,8e-5,9e-5,2e-6,3e-6,4e-6,5e-6,6e-6,7e-6,8e-6,9e-6,2e-7,3e-7,4e-7,5e-7,6e-7,7e-7,8e-7,9e-7,2e-8,3e-8,4e-8,5e-8,6e-8,7e-8,8e-8,9e-8,2e-9,3e-9,4e-9,5e-9,6e-9,7e-9,8e-9,9e-9,2e-10,3e-10,4e-10,5e-10,6e-10,7e-10,8e-10,9e-10]}}
              }
            }
          ]
        }
      ]
    },
    {
      "title": {"text": "(b) Elapsed time", "orient": "bottom", "font": "DejaVu Serif", "fontSize": 24, "fontWeight": "normal", "offset": 18, "dx": -2, "anchor": "middle", "frame": "bounds"},
      "resolve": {"legend": {"color": "independent"}, "scale": {"color": "independent"}},
      "vconcat": [
        {
          "title": {"text": "(- simpleFoam, -- pUCoupledFoam)", "frame": "group", "anchor": "middle", "offset": -6},
          "width": 482.5,
          "height": 373.3,
          "data": {"name": "time"},
          "resolve": {"axis": {"x": "independent", "y": "independent"}},
          "layer": [
            {
              "mark": {"type": "line", "strokeWidth": 1.2, "clip": true},
              "encoding": {
                "x": {"field": "x", "type": "quantitative", "scale": {"domain": [0, 90], "nice": false, "zero": false},
                      "axis": {"orient": "bottom", "values": [0, 10, 20, 30, 40, 50, 60, 70, 80, 90], "format": "d", "title": "['Elapsed time [s]']"}},
                "y": {"field": "r", "type": "quantitative", "scale": {"type": "log", "domain": [1e-10, 1], "nice": false},
                      "axis": {"orient": "left", "values": [1, 0.1, 0.01, 0.001, 0.0001, 0.00001, 0.000001, 1e-7, 1e-8, 1e-9, 1e-10], "title": "Residuals",
                               "labelExpr": "'10' + ['⁰','⁻¹','⁻²','⁻³','⁻⁴','⁻⁵','⁻⁶','⁻⁷','⁻⁸','⁻⁹','⁻¹⁰'][round(-log(datum.value)/LN10)]"}},
                "color": {"field": "v", "type": "nominal", "scale": {"domain": ["Turbulent energy", "Velocity (x)", "Pressure"], "range": ["#008000", "#ff0000", "#0000ff"]}},
                "strokeDash": {"field": "s", "type": "nominal", "scale": {"domain": ["simpleFoam", "pUCoupledFoam"], "range": [[1, 0], [6, 4]]}, "legend": null}
              }
            },
            {
              "mark": {"type": "point", "opacity": 0},
              "encoding": {
                "x": {"field": "x", "type": "quantitative", "scale": {"domain": [0, 90], "nice": false, "zero": false}, "axis": {"orient": "top", "values": [0, 10, 20, 30, 40, 50, 60, 70, 80, 90], "labels": false, "grid": false, "title": null}},
                "y": {"field": "r", "type": "quantitative", "scale": {"type": "log", "domain": [1e-10, 1], "nice": false}, "axis": {"orient": "right", "values": [1, 0.1, 0.01, 0.001, 0.0001, 0.00001, 0.000001, 1e-7, 1e-8, 1e-9, 1e-10], "labels": false, "grid": false, "title": null}}
              }
            },
            {
              "mark": {"type": "point", "opacity": 0},
              "encoding": {
                "x": {"field": "x", "type": "quantitative", "scale": {"domain": [0, 90], "nice": false, "zero": false}, "axis": null},
                "y": {"field": "r", "type": "quantitative", "scale": {"type": "log", "domain": [1e-10, 1], "nice": false}, "axis": {"orient": "left", "labels": false, "grid": false, "title": null, "tickSize": -2.5,
                  "values": [2e-1,3e-1,4e-1,5e-1,6e-1,7e-1,8e-1,9e-1,2e-2,3e-2,4e-2,5e-2,6e-2,7e-2,8e-2,9e-2,2e-3,3e-3,4e-3,5e-3,6e-3,7e-3,8e-3,9e-3,2e-4,3e-4,4e-4,5e-4,6e-4,7e-4,8e-4,9e-4,2e-5,3e-5,4e-5,5e-5,6e-5,7e-5,8e-5,9e-5,2e-6,3e-6,4e-6,5e-6,6e-6,7e-6,8e-6,9e-6,2e-7,3e-7,4e-7,5e-7,6e-7,7e-7,8e-7,9e-7,2e-8,3e-8,4e-8,5e-8,6e-8,7e-8,8e-8,9e-8,2e-9,3e-9,4e-9,5e-9,6e-9,7e-9,8e-9,9e-9,2e-10,3e-10,4e-10,5e-10,6e-10,7e-10,8e-10,9e-10]}}
              }
            },
            {
              "mark": {"type": "point", "opacity": 0},
              "encoding": {
                "x": {"field": "x", "type": "quantitative", "scale": {"domain": [0, 90], "nice": false, "zero": false}, "axis": null},
                "y": {"field": "r", "type": "quantitative", "scale": {"type": "log", "domain": [1e-10, 1], "nice": false}, "axis": {"orient": "right", "labels": false, "grid": false, "title": null, "tickSize": -2.5,
                  "values": [2e-1,3e-1,4e-1,5e-1,6e-1,7e-1,8e-1,9e-1,2e-2,3e-2,4e-2,5e-2,6e-2,7e-2,8e-2,9e-2,2e-3,3e-3,4e-3,5e-3,6e-3,7e-3,8e-3,9e-3,2e-4,3e-4,4e-4,5e-4,6e-4,7e-4,8e-4,9e-4,2e-5,3e-5,4e-5,5e-5,6e-5,7e-5,8e-5,9e-5,2e-6,3e-6,4e-6,5e-6,6e-6,7e-6,8e-6,9e-6,2e-7,3e-7,4e-7,5e-7,6e-7,7e-7,8e-7,9e-7,2e-8,3e-8,4e-8,5e-8,6e-8,7e-8,8e-8,9e-8,2e-9,3e-9,4e-9,5e-9,6e-9,7e-9,8e-9,9e-9,2e-10,3e-10,4e-10,5e-10,6e-10,7e-10,8e-10,9e-10]}}
              }
            }
          ]
        }
      ]
    }
  ],
  "spacing": 15,
  "center": true
}
